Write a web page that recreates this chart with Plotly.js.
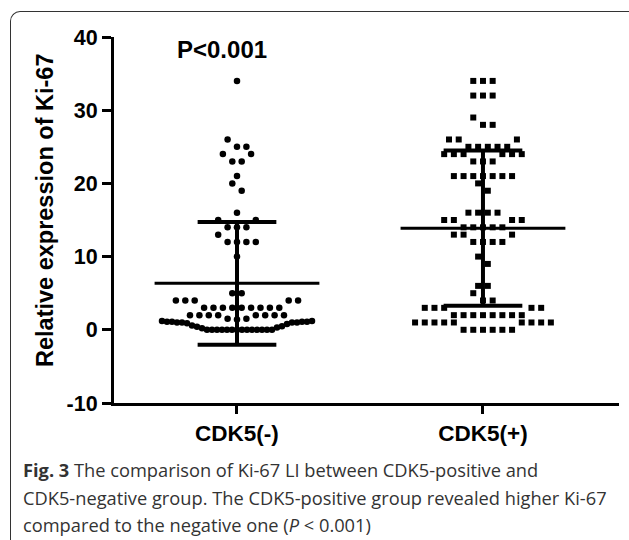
<!DOCTYPE html>
<html><head><meta charset="utf-8">
<script src="https://cdn.plot.ly/plotly-3.0.1.min.js"></script>
<style>
html,body{margin:0;padding:0;background:#fff;overflow:hidden;}
#frame{position:absolute;left:10px;top:11px;width:700px;height:560px;border-top:1.5px solid #333;border-left:1.5px solid #333;border-top-left-radius:10px;z-index:0;}
#chart{position:absolute;left:0;top:0;width:629px;height:540px;z-index:1;}
</style></head><body>
<div id="frame"></div>
<div id="chart"></div>
<script>
// ---- data ----
const categories = ['CDK5(-)', 'CDK5(+)'];
const negValues = [
  0,0,0,0,0,0,0,0,0,0,0,0,0,0, 0.2,0.3,0.4,0.5,0.6,0.8,0.9, 1.0,1.0,1.0,1.0, 1.1,1.1,1.1,1.1, 1.2,1.2,
  1.4,1.5,1.5,
  2,2,2,2,2,2,2,2,
  3,3,3,3,3,3,3,3,3,
  4,4,4,4,4,
  5,5,
  10,
  12,12,12,12,
  13,
  14,14,14,
  15,15,
  16,
  19,20,21,
  23,23,24,24,
  25,25,26,
  34
];
const posValues = [
  0,0,0,0,0,0,
  1,1,1,1,1,1,1,1,1,
  2,2,2,2,2,2,2,2,
  3,3,3,3,3,
  4,4,5,
  6,6,
  9,10,
  12,12,12,12,
  13,13,13,
  14,14,14,14,14,
  15,15,15,15,
  16,16,16,16,
  19,20,
  21,21,21,21,21,21,21,
  23,23,23,
  24,24,24,24,24,24,
  25,25,25,25,25,
  26,26,26,
  28,28,29,
  32,32,32,
  34,34,34
];
const yTickVals = [-10, 0, 10, 20, 30, 40];
const yTickText = ['-10', '0', '10', '20', '30', '40'];
const pLabel = 'P<0.001';
const yTitle = 'Relative expression of Ki-67';
const captionLines = [
  '<b>Fig. 3</b> The comparison of Ki-67 LI between CDK5-positive and',
  'CDK5-negative group. The CDK5-positive group revealed higher Ki-67',
  'compared to the negative one (<i>P</i> < 0.001)'
];

// ---- layout geometry ----
const W = 629, H = 540;
const margin = {l: 114, r: 10, t: 37, b: 137};
const plotW = W - margin.l - margin.r;
const plotH = H - margin.t - margin.b;
const xRange = [-0.5, 1.553];
const yRange = [-10, 40];
const pxPerX = plotW / (xRange[1] - xRange[0]);
const px2px = x => (x - margin.l) / plotW;           // pixel x -> paper x
const py2py = y => (H - margin.b - y) / plotH;       // pixel y -> paper y

// Prism-like scatter spreading: rows of nearby values, sorted, placed centre-outward
function spread(values, rowH, stepPx, maxHalfPx) {
  const order = values.map((v, i) => i).sort((a, b) => values[a] - values[b]);
  const off = new Array(values.length).fill(0);
  let i = 0;
  while (i < order.length) {
    const start = values[order[i]];
    const row = [];
    while (i < order.length && values[order[i]] < start + rowH - 1e-9) { row.push(order[i]); i++; }
    const n = row.length;
    const s = n > 1 ? Math.min(stepPx, 2 * maxHalfPx / (n - 1)) : stepPx;
    const slots = [];
    if (n % 2 === 1) {
      slots.push(0);
      for (let k = 1; slots.length < n; k++) { slots.push(k); if (slots.length < n) slots.push(-k); }
    } else {
      for (let k = 0; slots.length < n; k++) { slots.push(k + 0.5); if (slots.length < n) slots.push(-(k + 0.5)); }
    }
    row.forEach((p, j) => { off[p] = slots[j] * s / pxPerX; });
  }
  return off;
}
function mean(a) { return a.reduce((s, v) => s + v, 0) / a.length; }
function sd(a) { const m = mean(a); return Math.sqrt(a.reduce((s, v) => s + (v - m) * (v - m), 0) / (a.length - 1)); }

const groups = [
  {vals: negValues, symbol: 'circle', size: 6.5, step: 9.4},
  {vals: posValues, symbol: 'square', size: 6, step: 9.7}
];
const traces = [];
groups.forEach((g, ci) => {
  const off = spread(g.vals, 1.3, g.step, 75);
  traces.push({
    type: 'scatter', mode: 'markers',
    x: g.vals.map((v, i) => ci + off[i]), y: g.vals,
    marker: {symbol: g.symbol, size: g.size, color: '#000', line: {width: 0}},
    hoverinfo: 'skip', showlegend: false, cliponaxis: false
  });
});
groups.forEach((g, ci) => {
  const m = mean(g.vals), s = sd(g.vals);
  const lineStyle = w => ({color: '#000', width: w});
  traces.push({type: 'scatter', mode: 'lines', x: [ci - 0.335, ci + 0.335], y: [m, m], line: lineStyle(3), showlegend: false, hoverinfo: 'skip'});
  traces.push({type: 'scatter', mode: 'lines', x: [ci, ci], y: [m - s, m + s], line: lineStyle(4), showlegend: false, hoverinfo: 'skip'});
  traces.push({type: 'scatter', mode: 'lines', x: [ci - 0.16, ci + 0.16], y: [m + s, m + s], line: lineStyle(4), showlegend: false, hoverinfo: 'skip'});
  traces.push({type: 'scatter', mode: 'lines', x: [ci - 0.16, ci + 0.16], y: [m - s, m - s], line: lineStyle(4), showlegend: false, hoverinfo: 'skip'});
});

const boldFont = (size) => ({family: 'Liberation Sans, Arial, sans-serif', size: size, color: '#000', weight: 'bold'});
const capFont = {family: 'Open Sans, Noto Sans, sans-serif', size: 18.25, color: '#333'};

const annotations = [
  {text: pLabel, xref: 'paper', yref: 'paper', x: px2px(221.5), y: py2py(49), xanchor: 'center', yanchor: 'middle',
   showarrow: false, font: boldFont(24)},
  {text: yTitle, xref: 'paper', yref: 'paper', x: px2px(45), y: py2py(211), xanchor: 'center', yanchor: 'middle',
   textangle: -90, showarrow: false, font: boldFont(23.5)}
];
const capY = [469, 497, 524];
captionLines.forEach((t, i) => {
  annotations.push({text: t, xref: 'paper', yref: 'paper', x: px2px(21), y: py2py(capY[i]), xanchor: 'left', yanchor: 'middle',
    showarrow: false, font: capFont});
});

const layout = {
  width: W, height: H, margin: margin,
  paper_bgcolor: 'rgba(0,0,0,0)', plot_bgcolor: 'rgba(0,0,0,0)',
  showlegend: false,
  xaxis: {range: xRange, tickvals: [0, 1], ticktext: categories, showgrid: false, zeroline: false,
    showline: true, linecolor: '#000', linewidth: 3, ticks: 'outside', ticklen: 8, tickwidth: 3, tickcolor: '#000',
    tickfont: boldFont(22.5), fixedrange: true},
  yaxis: {range: yRange, tickvals: yTickVals, ticktext: yTickText, showgrid: false, zeroline: false,
    showline: true, linecolor: '#000', linewidth: 3, ticks: 'outside', ticklen: 9, tickwidth: 3, tickcolor: '#000',
    tickfont: boldFont(21.5), fixedrange: true},
  annotations: annotations
};
Plotly.newPlot('chart', traces, layout, {displayModeBar: false, staticPlot: true});
</script>
</body></html>
